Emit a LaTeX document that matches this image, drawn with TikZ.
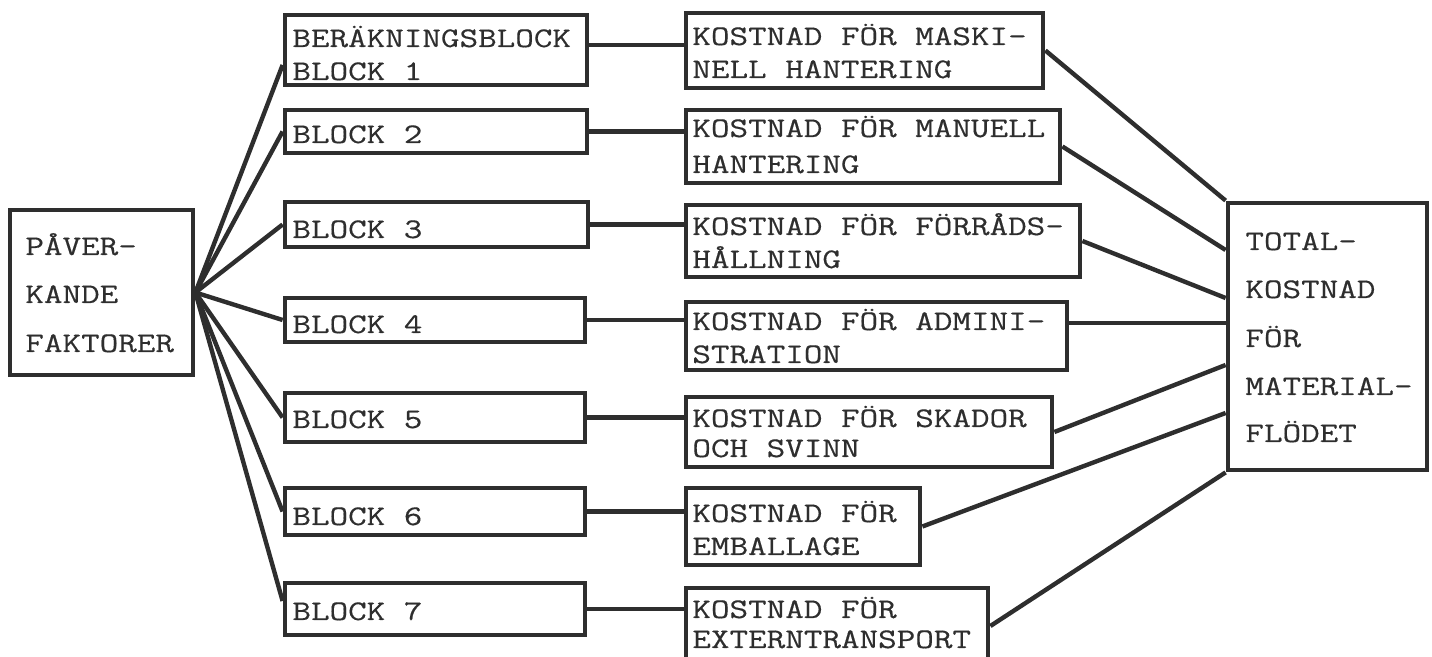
\documentclass[tikz,border=0pt]{standalone}
\usepackage{fontspec}
\setmonofont{Latin Modern Mono}[FakeStretch=1.27, FakeBold=0.4]
\usetikzlibrary{fit,calc}
\definecolor{ink}{HTML}{2E2E2E}
\begin{document}
\begin{tikzpicture}[x=0.5pt,y=-0.5pt,
  box/.style={draw=ink, line width=2.4pt, inner sep=0pt, minimum size=0pt},
  conn/.style={draw=ink, line width=2.2pt},
  lbl/.style={anchor=base west, inner sep=0pt, text=ink, font=\ttfamily\fontsize{14.2}{18}\selectfont}]
\useasboundingbox (0,0) rectangle (1432,657);
% boxes
\node[box, fit={(10,210) (193,375)}] (pav) {};
\node[box, fit={(285,15) (587,85)}] (b1) {};
\node[box, fit={(285,110) (587,153)}] (b2) {};
\node[box, fit={(285,202) (588,247)}] (b3) {};
\node[box, fit={(285,298) (585,342)}] (b4) {};
\node[box, fit={(285,393) (585,442)}] (b5) {};
\node[box, fit={(285,488) (585,535)}] (b6) {};
\node[box, fit={(285,583) (585,635)}] (b7) {};
\node[box, fit={(686,13) (1043,88)}] (c1) {};
\node[box, fit={(686,110) (1060,183)}] (c2) {};
\node[box, fit={(686,205) (1080,277)}] (c3) {};
\node[box, fit={(686,302) (1067,370)}] (c4) {};
\node[box, fit={(686,397) (1052,467)}] (c5) {};
\node[box, fit={(686,488) (920,565)}] (c6) {};
\node[box, fit={(686,588) (988,664)}] (c7) {};
\node[box, fit={(1228,203) (1427,470)}] (tot) {};
% texts
\node[lbl] (p1) at (25,255) {PÅVER-};
\node[lbl] (p2) at (25,303) {KANDE};
\node[lbl] (p3) at (25,352) {FAKTORER};
\node[lbl] (t1a) at (292,47) {BERÄKNINGSBLOCK};
\node[lbl] (t1b) at (292,80) {BLOCK 1};
\node[lbl] (t2) at (292,143) {BLOCK 2};
\node[lbl] (t3) at (292,238) {BLOCK 3};
\node[lbl] (t4) at (292,333) {BLOCK 4};
\node[lbl] (t5) at (292,428) {BLOCK 5};
\node[lbl] (t6) at (292,525) {BLOCK 6};
\node[lbl] (t7) at (292,620) {BLOCK 7};
\node[lbl] (k1a) at (692,45) {KOSTNAD FÖR MASKI-};
\node[lbl] (k1b) at (692,78) {NELL HANTERING};
\node[lbl] (k2a) at (692,137) {KOSTNAD FÖR MANUELL};
\node[lbl] (k2b) at (692,173) {HANTERING};
\node[lbl] (k3a) at (692,235) {KOSTNAD FÖR FÖRRÅDS-};
\node[lbl] (k3b) at (692,268) {HÅLLNING};
\node[lbl] (k4a) at (692,330) {KOSTNAD FÖR ADMINI-};
\node[lbl] (k4b) at (692,363) {STRATION};
\node[lbl] (k5a) at (692,427) {KOSTNAD FÖR SKADOR};
\node[lbl] (k5b) at (692,457) {OCH SVINN};
\node[lbl] (k6a) at (692,522) {KOSTNAD FÖR};
\node[lbl] (k6b) at (692,555) {EMBALLAGE};
\node[lbl] (k7a) at (692,618) {KOSTNAD FÖR};
\node[lbl] (k7b) at (692,648) {EXTERNTRANSPORT};
\node[lbl] (s1) at (1245,250) {TOTAL-};
\node[lbl] (s2) at (1245,298) {KOSTNAD};
\node[lbl] (s3) at (1245,347) {FÖR};
\node[lbl] (s4) at (1245,395) {MATERIAL-};
\node[lbl] (s5) at (1245,442) {FLÖDET};
% fan from left box
\draw[conn] (pav.east) -- ($(b1.west)+(0,15)$);
\draw[conn] (pav.east) -- (b2.west);
\draw[conn] (pav.east) -- (b3.west);
\draw[conn] (pav.east) -- (b4.west);
\draw[conn] (pav.east) -- (b5.west);
\draw[conn] (pav.east) -- (b6.west);
\draw[conn] (pav.east) -- ($(b7.west)+(0,-8)$);
% block to cost
\draw[conn] ($(b1.east)+(0,-5)$) coordinate (h1) -- (h1 -| c1.west);
\draw[conn] (b2.east) -- (b2.east -| c2.west);
\draw[conn] (b3.east) -- (b3.east -| c3.west);
\draw[conn] (b4.east) -- (b4.east -| c4.west);
\draw[conn] (b5.east) -- (b5.east -| c5.west);
\draw[conn] (b6.east) -- (b6.east -| c6.west);
\draw[conn] (b7.east) -- (b7.east -| c7.west);
% cost to total
\draw[conn] (c1.east) -- (tot.north west);
\draw[conn] (c2.east) -- ($(tot.west)+(0,-86.5)$);
\draw[conn] (c3.east) -- ($(tot.west)+(0,-38.5)$);
\draw[conn] ($(c4.east)+(0,-13)$) coordinate (h4) -- (h4 -| tot.west);
\draw[conn] (c5.east) -- ($(tot.west)+(0,28.5)$);
\draw[conn] (c6.east) -- ($(tot.west)+(0,76.5)$);
\draw[conn] (c7.east) -- (tot.south west);
\end{tikzpicture}
\end{document}
